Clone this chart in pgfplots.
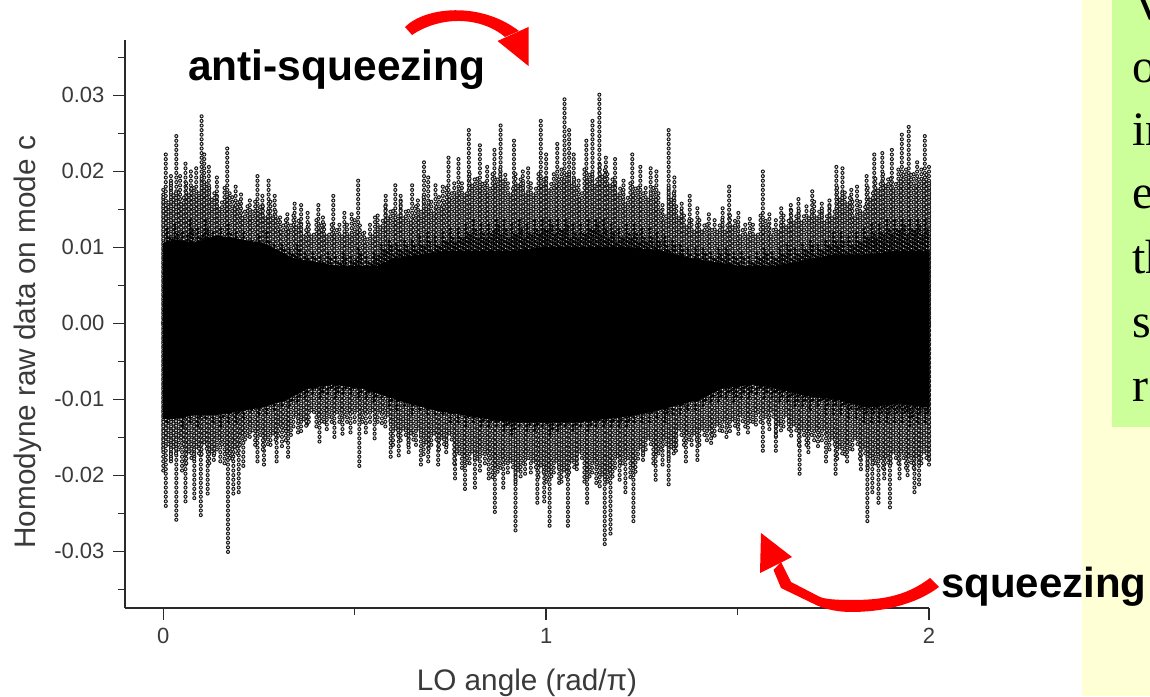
\documentclass[border=0pt]{standalone}
\usepackage{pgfplots}
\usepackage{pgfplotstable}
\usepackage{fontspec}
\setmainfont{Liberation Sans}
\newfontfamily\timesf{Liberation Serif}
\pgfplotsset{compat=1.18}
\definecolor{axcol}{HTML}{2A2A2A}
\definecolor{txtcol}{HTML}{3A3A3A}
\definecolor{panely}{HTML}{FFFFD5}
\definecolor{panelg}{HTML}{CCFF99}
\pgfplotstableread{
x v
0 18.0
.0065 22.6
.02 19.7
.034 24.8
.044 19.7
.058 21.5
.072 20.4
.086 20.6
.1 27.4
.107 22.6
.119 20.6
.14 19.3
.167 23.5
.189 18.4
.203 17.3
.226 16.6
.246 19.5
.259 17.1
.275 18.9
.291 16.9
.305 14.0
.324 14.8
.343 16
.36 16
.377 14.7
.405 15.6
.417 14.5
.444 17.3
.473 14.9
.492 14.5
.509 19
.525 12.3
.553 14
.581 17
.606 18.2
.62 17.1
.65 18.2
.665 16.7
.681 21.3
.692 19.7
.711 18.2
.73 18.2
.745 21.9
.771 22.2
.798 25.9
.827 23.9
.846 21
.865 23.4
.881 26.1
.916 24.6
.939 20.4
.953 21
.986 26.7
1.0 22.4
1.029 23.9
1.048 29.6
1.06 25.7
1.072 22.4
1.085 19.3
1.105 24.3
1.121 27
1.139 30.2
1.156 22.2
1.18 22.2
1.202 18.9
1.225 22.4
1.246 21.0
1.273 20.4
1.288 20.4
1.304 15.8
1.32 25.9
1.335 19.3
1.354 15.8
1.375 17.3
1.395 15.3
1.425 14.9
1.461 15.5
1.478 18
1.502 14.7
1.532 14
1.566 20
1.583 14.5
1.614 15.5
1.639 16
1.659 16.4
1.695 17.8
1.72 16.2
1.74 16.7
1.758 21
1.774 20.8
1.797 18
1.812 18
1.837 19.7
1.857 22.3
1.878 22.8
1.903 23
1.929 25.4
1.947 25.9
1.969 21.5
1.989 24.7
2.0 20.6
}\peakstop
\pgfplotstableread{
x v
0 -19.7
.0065 -24.3
.02 -18.6
.034 -26.4
.049 -19.7
.058 -23.7
.081 -23.2
.098 -25.7
.116 -22.4
.132 -18.4
.149 -18.4
.169 -30.5
.183 -22.8
.197 -22.8
.209 -18.9
.226 -15.4
.246 -18.4
.263 -18.6
.296 -18.6
.31 -16.4
.326 -17.6
.352 -14.9
.375 -13.8
.408 -16
.427 -14.5
.447 -15.4
.468 -14.9
.489 -14.7
.512 -19.1
.529 -14.5
.552 -15.6
.571 -13.6
.594 -18.1
.615 -17.9
.641 -17.5
.673 -19.1
.692 -18.6
.718 -19
.739 -17.1
.762 -21
.788 -22.3
.814 -21.7
.827 -19.7
.85 -20.6
.866 -25.4
.888 -22.1
.92 -27.7
.945 -20.2
.977 -23.9
.995 -23.7
1.009 -27.1
1.034 -21.5
1.057 -26.7
1.08 -19.7
1.107 -24.1
1.131 -21.5
1.153 -29.5
1.168 -28
1.192 -20.6
1.207 -22.7
1.228 -26.1
1.253 -18.2
1.286 -20.8
1.304 -18.9
1.32 -21.5
1.339 -17.1
1.365 -18.5
1.395 -18.2
1.431 -16
1.471 -15.4
1.502 -14.7
1.527 -14.9
1.548 -13.6
1.566 -17.1
1.583 -14.3
1.6 -16.9
1.634 -14.3
1.662 -19.8
1.685 -17.3
1.71 -16.4
1.731 -18.5
1.756 -20.3
1.786 -18.6
1.822 -19.5
1.839 -26.3
1.852 -22.8
1.868 -23.9
1.883 -20.6
1.898 -24.6
1.923 -21
1.944 -20.4
1.962 -22.4
1.974 -21.3
2.0 -18.9
}\peaksbot
\pgfplotstableread{
x t b
0 17 -17
.02 18.5 -18
.04 17.5 -17
.06 19 -19
.08 18 -18
.1 19.5 -17.5
.12 18 -18.5
.14 17 -17
.16 18 -19
.18 17 -18
.2 16 -16.5
.22 15.5 -15
.24 16.5 -16
.26 15.5 -17
.28 16 -16.5
.3 14 -15
.32 14 -15.5
.34 14.5 -14
.36 13.5 -14.5
.38 13 -13
.4 14 -14
.42 13 -13.5
.44 13.5 -13
.46 13 -13.5
.48 13 -13
.5 14 -13.5
.52 12 -13
.54 13 -13.5
.56 14.5 -13
.58 15.5 -14
.6 15 -16
.62 16 -15.5
.64 15 -16.5
.66 15.5 -16
.68 17 -17.5
.7 16.5 -16.5
.72 17 -17
.74 18 -16.5
.76 19 -18.5
.78 18.5 -19.5
.8 20 -19
.82 19.5 -18
.84 19 -19
.86 20 -20.5
.88 20.5 -19.5
.9 19 -20
.92 20 -21
.94 18.5 -19
.96 19 -20
.98 20 -20.5
1.0 19.5 -21
1.02 20 -20
1.04 20.5 -21
1.06 20 -20
1.08 18 -19
1.1 20.5 -21
1.12 20 -20
1.14 21 -21.5
1.16 20 -21
1.18 19 -19.5
1.2 17.5 -19
1.22 19 -20.5
1.24 18 -18
1.26 18 -17
1.28 18 -18.5
1.3 15 -17
1.32 18 -18
1.34 15.5 -16
1.36 14.5 -16.5
1.38 14 -16.5
1.4 14 -16
1.42 13.5 -15.5
1.44 14 -15
1.46 14 -14.5
1.48 14.5 -14.5
1.5 13.5 -14
1.52 13 -14
1.54 13 -13
1.56 14.5 -13.5
1.58 13.5 -13.5
1.6 14 -15
1.62 14.5 -14
1.64 15 -15
1.66 15 -16
1.68 15.5 -16
1.7 16 -15.5
1.72 15 -15.5
1.74 15.5 -17
1.76 18 -18
1.78 17.5 -17.5
1.8 16 -17
1.82 16.5 -18
1.84 18 -19.5
1.86 19.5 -19
1.88 20 -19.5
1.9 19.5 -19
1.92 20.5 -19
1.94 20.5 -19.5
1.96 20 -19.5
1.98 20.5 -19
2.0 19 -18
}\body
\pgfplotstableread{
x u d
.01 12.5 -13
.03 13 -12.5
.05 12 -13.5
.07 13.5 -13
.09 12.5 -13.5
.11 13.5 -12.5
.13 12 -13
.15 12.5 -13.5
.17 13 -13
.19 12 -13
.21 12 -12.5
.23 11 -11.5
.25 11.5 -12
.27 12 -12
.29 10.5 -11.5
.31 10.5 -11
.33 10 -11
.35 10.5 -10.5
.37 9.5 -10
.39 9.5 -9.5
.41 9 -10
.43 9.5 -9.5
.45 9 -10
.47 9.5 -9.5
.49 9 -9.5
.51 10 -10
.53 9 -10
.55 9.5 -10.5
.57 10.5 -10
.59 11 -11
.61 10.5 -11.5
.63 11 -11
.65 11 -12
.67 11.5 -11.5
.69 12 -12
.71 11.5 -12
.73 12 -12
.75 12.5 -13
.77 12.5 -13
.79 13 -13.5
.81 13.5 -13
.83 13 -14
.85 13 -14
.87 14 -14
.89 13.5 -14.5
.91 13 -15
.93 13.5 -14
.95 13 -14.5
.97 13.5 -14.5
.99 13.5 -14
1.01 14 -15
1.03 13.5 -14.5
1.05 14 -14
1.07 13 -14.5
1.09 13 -14
1.11 13.5 -14.5
1.13 14 -14
1.15 13.5 -14
1.17 13 -14
1.19 12.5 -14
1.21 13 -14
1.23 13 -13
1.25 12.5 -13
1.27 12.5 -13
1.29 12 -12.5
1.31 11.5 -13
1.33 11 -12
1.35 10.5 -12
1.37 10 -11.5
1.39 10 -11.5
1.41 10 -11
1.43 9.5 -10.5
1.45 10 -10.5
1.47 10 -10
1.49 9.5 -10.5
1.51 9.5 -10
1.53 9 -10
1.55 9.5 -9.5
1.57 10 -10
1.59 9.5 -10
1.61 10 -10.5
1.63 10.5 -10.5
1.65 10 -11
1.67 10.5 -11
1.69 11 -11.5
1.71 10.5 -11
1.73 11 -12
1.75 12 -12
1.77 12 -12
1.79 11.5 -12.5
1.81 12 -12.5
1.83 12.5 -13
1.85 13 -13
1.87 13 -13
1.89 13.5 -13
1.91 13.5 -13
1.93 14 -13
1.95 13.5 -13.5
1.97 14 -13
1.99 13.5 -13
}\dense
\pgfplotstableread{
x v
0 10.5
.03 11
.08 10.5
.14 11.5
.2 11
.26 10.5
.3 9.5
.34 8.5
.4 8
.45 7.5
.5 7.5
.56 7.5
.6 8.5
.68 9
.74 9.5
.8 9.5
.86 9.5
.92 9.5
1.0 10
1.1 10
1.2 10
1.3 9.5
1.38 8.5
1.44 8
1.5 7.5
1.6 7.5
1.7 8.5
1.76 9
1.84 9
1.92 9.5
2.0 9.5
2.0 -11
1.92 -10.5
1.84 -11
1.76 -10
1.68 -9.5
1.6 -8.5
1.54 -8
1.46 -8.5
1.4 -10
1.32 -11
1.24 -12
1.16 -12.5
1.08 -13
1.0 -13
.92 -13
.84 -12.5
.78 -12
.72 -11.5
.64 -10.5
.58 -9.5
.52 -8.5
.44 -8
.38 -8.5
.32 -10
.26 -11
.2 -11.5
.14 -12
.08 -12
.03 -12.5
0 -12.5
}\band
% a column of open circles: table, y column, phase, selection, x offset, y offset
\newcommand{\stack}[6]{%
 \addplot[ycomb,black!92,line width=4.1pt,line cap=round,dash pattern=on 0pt off 4.6pt,dash phase=#3pt,forget plot,restrict x to domain=0:2,#4] table[x expr=\thisrow{x}+#5,y expr=(\thisrow{#2}+#6)*0.001]{#1};
 \addplot[ycomb,white!92!black,line width=2pt,line cap=round,dash pattern=on 0pt off 4.6pt,dash phase=#3pt,forget plot,restrict x to domain=0:2,#4] table[x expr=\thisrow{x}+#5,y expr=(\thisrow{#2}+#6)*0.001]{#1};
}
% a column of black dots: y column, phase, x offset, y offset
\newcommand{\blackdots}[4]{%
 \addplot[ycomb,black,line width=3.6pt,line cap=round,dash pattern=on 0pt off 4.1pt,dash phase=#2pt,forget plot,restrict x to domain=0:2] table[x expr=\thisrow{x}+#3,y expr=(\thisrow{#1}+#4)*0.001]{\dense};
}
\begin{document}
\begin{tikzpicture}[x=1pt,y=1pt]
\path[use as bounding box] (0,0) rectangle (1150,696);
\fill[white] (0,0) rectangle (1150,696);
\begin{scope}
\clip (0,0) rectangle (1150,696);
\fill[panely] (1082,0) rectangle (1150,696);
\fill[panelg] (1112,696-427) rectangle (1150,696);
\begin{scope}[font=\timesf\fontsize{48}{48}\selectfont]
\node[anchor=base west,inner sep=0] at (1132,696-20) {V};
\node[anchor=base west,inner sep=0] at (1132,696-83) {o};
\node[anchor=base west,inner sep=0] at (1132,696-146) {in};
\node[anchor=base west,inner sep=0] at (1132,696-209) {e};
\node[anchor=base west,inner sep=0] at (1132,696-274) {th};
\node[anchor=base west,inner sep=0] at (1132,696-338) {s};
\node[anchor=base west,inner sep=0] at (1132,696-402) {r};
\end{scope}
\end{scope}
\begin{axis}[
  at={(125pt,88pt)},anchor=south west,scale only axis,width=804pt,height=568pt,
  xmin=-0.1,xmax=2,ymin=-0.03746,ymax=0.03728,
  axis lines=left,axis line style={-,axcol,line width=1.7pt},
  clip=false,scaled y ticks=false,
  xtick={0,1,2},xticklabels={0,1,2},minor xtick={0.5,1.5},
  ytick={-0.03,-0.02,-0.01,0,0.01,0.02,0.03},
  yticklabels={-0.03,-0.02,-0.01,0.00,0.01,0.02,0.03},
  minor ytick={-0.035,-0.025,-0.015,-0.005,0.005,0.015,0.025,0.035},
  tick align=outside,
  major tick length=12pt,minor tick length=7pt,
  every tick/.style={axcol,line width=1.5pt},
  minor tick style={axcol,line width=1.5pt},
  ticklabel style={font=\fontsize{22}{24}\selectfont,text=txtcol},
  xticklabel style={yshift=-5pt},
  yticklabel style={xshift=-5pt},
  xlabel={LO angle (rad/π)},
  ylabel={Homodyne raw data on mode c},
  label style={font=\fontsize{29.7}{32}\selectfont,text=txtcol},
  xlabel style={at={(axis description cs:0.5,0)},anchor=base,yshift=-82pt},
  ylabel style={at={(axis description cs:0,0.468)},anchor=base,yshift=89pt},
]
\stack{\peakstop}{v}{0}{each nth point=2}{0}{0}
\stack{\peakstop}{v}{1.4}{x filter/.expression={mod(\coordindex,2)==1 ? x : nan}}{0}{0}
\stack{\peaksbot}{v}{0}{each nth point=2}{0}{0}
\stack{\peaksbot}{v}{1.4}{x filter/.expression={mod(\coordindex,2)==1 ? x : nan}}{0}{0}
\stack{\body}{t}{2.7}{}{0}{0}
\stack{\body}{b}{2.7}{}{0}{0}
\stack{\body}{t}{0.8}{}{0.0067}{-1.6}
\stack{\body}{b}{0.8}{}{0.0067}{1.6}
\stack{\body}{t}{3.4}{}{0.0133}{-0.8}
\stack{\body}{b}{3.4}{}{0.0133}{0.8}
\blackdots{u}{0}{0}{0}
\blackdots{d}{0}{0}{0}
\blackdots{u}{1.3}{0.0067}{-0.9}
\blackdots{d}{1.3}{0.0067}{0.9}
\blackdots{u}{2.6}{-0.0067}{-1.6}
\blackdots{d}{2.6}{-0.0067}{1.6}
\addplot[fill=black,draw=black,line width=1pt,forget plot] table[x=x,y expr=\thisrow{v}*0.001]{\band} -- cycle;
\end{axis}
\begin{scope}[shift={(0,696)},yscale=-1]
\fill[red] (405,27) .. controls (425,7) and (480,1) .. (519,31) -- (505,37) .. controls (480,16) and (440,16) .. (412,35) -- cycle;
\fill[red] (528.5,27) -- (528.5,66) -- (497.5,41) -- cycle;
\fill[red] (930,578) .. controls (905,597) and (880,600) .. (851,600) .. controls (835,600) and (825,599) .. (820,597) -- (791,582) -- (781,562) -- (773.5,570) -- (781,588) -- (812,603) .. controls (825,610) and (840,612) .. (851,612) .. controls (882,612) and (915,605) .. (939,587) -- cycle;
\fill[red] (761,533) -- (760,573) -- (792,557) -- cycle;
\end{scope}
\node[anchor=base west,inner sep=0,font=\bfseries\fontsize{42.5}{46}\selectfont] at (188,696-81) {anti-squeezing};
\node[anchor=base west,inner sep=0,font=\bfseries\fontsize{42}{46}\selectfont] at (941,696-597) {squeezing};
\end{tikzpicture}
\end{document}
